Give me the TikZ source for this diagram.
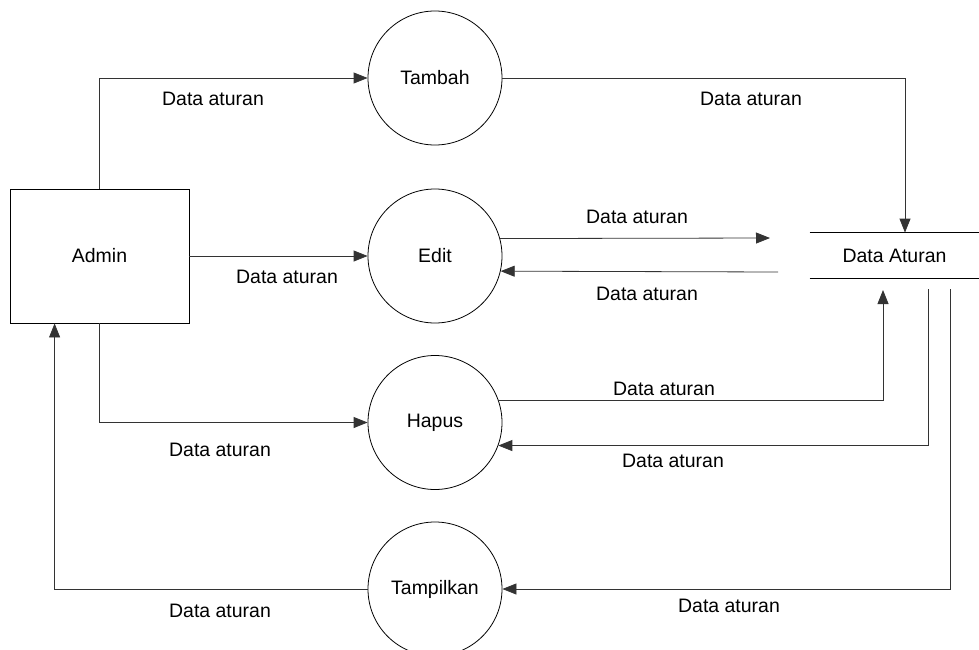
\documentclass[tikz,border=0pt]{standalone}
\usepackage{fontspec}
\setmainfont{Liberation Sans}
\usetikzlibrary{arrows.meta,calc}
\tikzstyle{dfd} = [
  x=0.75pt,
  y=-0.75pt,
  font=\fontsize{14.6}{17}\selectfont,
  line width=0.6pt,
]
\tikzstyle{process} = [draw, circle, minimum size=100.5pt, inner sep=0pt]
\tikzstyle{entity} = [draw, rectangle, minimum width=134.25pt, minimum height=100.5pt]
\tikzstyle{datastore} = [minimum width=126.75pt, minimum height=33.75pt]
\tikzstyle{flow} = [draw=black!80, -{Triangle[length=10.5pt,width=8.25pt]}]

\begin{document}
\begin{tikzpicture}[dfd]
      \useasboundingbox (0,0) rectangle (979,650);

      % Entity and store
      \node[entity] (admin) at (99.5,256) {Admin};
      \node[datastore] (aturan) at (894.5,255.5) {Data Aturan};
      \draw (aturan.north west) -- (aturan.north east);
      \draw (aturan.south west) -- (aturan.south east);

      % Processes
      \node[process] (tambah) at (435,78) {Tambah};
      \node[process] (edit) at (435,256) {Edit};
      \node[process] (hapus) at (435,422.5) {Hapus};
      \node[process] (tampilkan) at (435,589) {Tampilkan};

      % Free ends beside the store
      \coordinate (editout) at (770,238);
      \coordinate (editin) at (778,272);
      \coordinate (hapusout) at (883,290);
      \coordinate (hapusin) at (928,289);
      \coordinate (tampilin) at (950,289);

      % Flows
      \draw[flow] (admin.north) |- (tambah.west);
      \draw[flow] (tambah.east) -| ($(aturan.north)+(10.5,0)$);
      \draw[flow] (admin) -- (edit);
      \draw[flow] (edit.15.6) -- (editout);
      \draw[flow] (editin) -- (edit.-13.8);
      \draw[flow] (admin.south) |- (hapus.west);
      \draw[flow] (hapus.19.6) -| (hapusout);
      \draw[flow] (hapusin) |- (hapus.-20.5);
      \draw[flow] (tampilin) |- (tampilkan.east);
      \draw[flow] (tampilkan.west) -| ($(admin.south west)+(45,0)$);

      % Labels
      \node (lbltambahin) at (213,99) {Data aturan};
      \node (lbltambahout) at (751,99) {Data aturan};
      \node (lbleditin) at (287,277) {Data aturan};
      \node (lbleditout) at (637,217) {Data aturan};
      \node (lbleditback) at (647,294) {Data aturan};
      \node (lblhapusin) at (220,450) {Data aturan};
      \node (lblhapusout) at (664,389) {Data aturan};
      \node (lblhapusback) at (673,461) {Data aturan};
      \node (lbltampilin) at (729,606) {Data aturan};
      \node (lbltampilout) at (220,611) {Data aturan};
    \end{tikzpicture}
\end{document}
